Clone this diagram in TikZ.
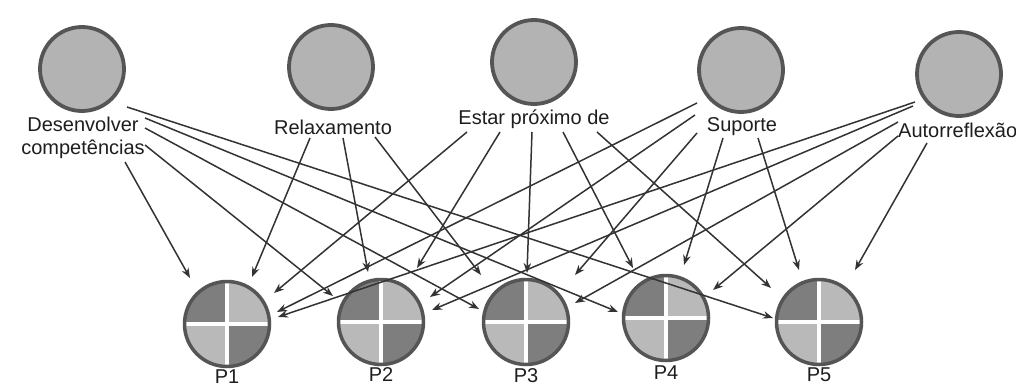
\documentclass[tikz,border=0pt]{standalone}
\usepackage{fontspec}
\setmainfont{Liberation Sans}
\usetikzlibrary{arrows.meta}
\definecolor{ringc}{HTML}{555555}
\definecolor{topfill}{HTML}{B3B3B3}
\definecolor{qdark}{HTML}{7E7E7E}
\definecolor{qlight}{HTML}{B9B9B9}
\definecolor{linec}{HTML}{333333}
\definecolor{txt}{HTML}{1E1E1E}
\begin{document}
\begin{tikzpicture}[x=1pt,y=-1pt,
  topnode/.style={circle,draw=ringc,line width=3.8pt,fill=topfill,minimum size=84pt,inner sep=0pt},
  pnode/.style={circle,draw=ringc,line width=3.5pt,minimum size=85pt,inner sep=0pt,
    path picture={
      \fill[qdark] (path picture bounding box.center) rectangle (path picture bounding box.north west);
      \fill[qlight] (path picture bounding box.center) rectangle (path picture bounding box.north east);
      \fill[qlight] (path picture bounding box.center) rectangle (path picture bounding box.south west);
      \fill[qdark] (path picture bounding box.center) rectangle (path picture bounding box.south east);
      \draw[white,line width=4pt] (path picture bounding box.north) -- (path picture bounding box.south);
      \draw[white,line width=4pt] (path picture bounding box.west) -- (path picture bounding box.east);
    }},
  lab/.style={font=\fontsize{20}{23}\selectfont,text=txt,inner sep=0pt,align=center},
  arr/.style={draw=linec,line width=1.5pt,-{Stealth[length=10pt,width=7.5pt]}}]
\useasboundingbox (0,0) rectangle (1016,388);
\fill[white] (0,0) rectangle (1016,388);

% top nodes
\node[topnode] (c1) at (82,69) {};
\node[topnode] (c2) at (331,67) {};
\node[topnode] (c3) at (534,62) {};
\node[topnode] (c4) at (741,70) {};
\node[topnode] (c5) at (959,74) {};

\node[lab] (l1) at (83,138) {Desenvolver\\competências};
\node[lab] (l2) at (333,127) {Relaxamento};
\node[lab] (l3) at (534,119) {Estar próximo de};
\node[lab] (l4) at (742,127) {Suporte};
\node[lab,anchor=west] (l5) at (898,130) {Autorreflexão};

% bottom nodes
\node[pnode] (p1) at (227,324) {};
\node[pnode] (p2) at (381,322) {};
\node[pnode] (p3) at (526,322) {};
\node[pnode] (p4) at (666,318) {};
\node[pnode] (p5) at (819,322) {};

\node[lab] (t1) at (227,377) {P1};
\node[lab] (t2) at (381,375) {P2};
\node[lab] (t3) at (526,376) {P3};
\node[lab] (t4) at (666,373) {P4};
\node[lab] (t5) at (819,375) {P5};

% Desenvolver competências
\draw[arr] ([shift={(45,38)}]c1.center) -- ([shift={(-46,-4)}]p5.center);
\draw[arr] ([shift={(63,49)}]c1.center) -- ([shift={(-48,-6)}]p4.center);
\draw[arr] ([shift={(63,59)}]c1.center) -- ([shift={(-47,-13)}]p3.center);
\draw[arr] ([shift={(63,76)}]c1.center) -- ([shift={(-48,-26)}]p2.center);
\draw[arr] ([shift={(43,93)}]c1.center) -- ([shift={(-37,-46)}]p1.center);

% Relaxamento
\draw[arr] ([shift={(-21,71)}]c2.center) -- ([shift={(25,-47)}]p1.center);
\draw[arr] ([shift={(12,71)}]c2.center) -- ([shift={(-13,-50)}]p2.center);
\draw[arr] ([shift={(44,70)}]c2.center) -- ([shift={(-45,-47)}]p3.center);

% Estar proximo de
\draw[arr] ([shift={(-67,70)}]c3.center) -- ([shift={(47,-31)}]p1.center);
\draw[arr] ([shift={(-34,70)}]c3.center) -- ([shift={(36,-54)}]p2.center);
\draw[arr] ([shift={(-2,70)}]c3.center) -- ([shift={(1,-49)}]p3.center);
\draw[arr] ([shift={(29,70)}]c3.center) -- ([shift={(-33,-50)}]p4.center);
\draw[arr] ([shift={(63,70)}]c3.center) -- ([shift={(-48,-34)}]p5.center);

% Suporte
\draw[arr] ([shift={(-44,33)}]c4.center) -- ([shift={(50,-12)}]p1.center);
\draw[arr] ([shift={(-46,45)}]c4.center) -- ([shift={(49,-25)}]p2.center);
\draw[arr] ([shift={(-44,63)}]c4.center) -- ([shift={(49,-47)}]p3.center);
\draw[arr] ([shift={(-18,68)}]c4.center) -- ([shift={(18,-53)}]p4.center);
\draw[arr] ([shift={(17,68)}]c4.center) -- ([shift={(-20,-52)}]p5.center);

% Autorreflexao
\draw[arr] ([shift={(-44,28)}]c5.center) -- ([shift={(51,-7)}]p1.center);
\draw[arr] ([shift={(-46,32)}]c5.center) -- ([shift={(51,-12)}]p2.center);
\draw[arr] ([shift={(-61,48)}]c5.center) -- ([shift={(49,-19)}]p3.center);
\draw[arr] ([shift={(-61,62)}]c5.center) -- ([shift={(47,-28)}]p4.center);
\draw[arr] ([shift={(-32,69)}]c5.center) -- ([shift={(36,-52)}]p5.center);
\end{tikzpicture}
\end{document}
